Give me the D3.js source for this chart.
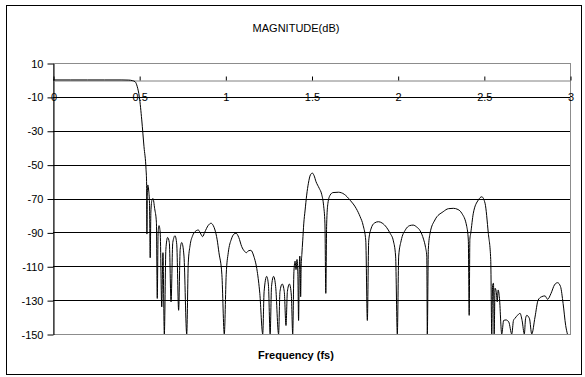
<!DOCTYPE html>
<html>
<head>
<meta charset="utf-8">
<script src="https://cdn.jsdelivr.net/npm/d3@7"></script>
<style>
  body { margin: 0; background: #fff; }
  svg text { font-family: "Liberation Sans", Arial, sans-serif; }
</style>
</head>
<body>
<script>
const chartTitle = "MAGNITUDE(dB)";
const xTitle = "Frequency (fs)";
const xTicks = [0, 0.5, 1, 1.5, 2, 2.5, 3];
const yTicks = [10, -10, -30, -50, -70, -90, -110, -130, -150];

// [frequency (fs), magnitude (dB)]
const response = [
  [0, 0], [0.1, 0], [0.2, 0], [0.3, 0], [0.4, 0], [0.44, -0.1], [0.46, -0.4], [0.476, -1],
  [0.489, -4], [0.501, -10], [0.515, -23.6], [0.528, -39.4], [0.540, -53], [0.543, -60],
  [0.545, -91], [0.547, -68], [0.550, -62], [0.555, -65], [0.560, -73], [0.564, -105],
  [0.568, -78], [0.574, -71], [0.580, -70], [0.590, -76], [0.600, -84], [0.605, -129],
  [0.610, -90], [0.615, -86], [0.622, -90], [0.631, -134], [0.638, -102], [0.646, -150],
  [0.655, -100], [0.665, -93], [0.675, -96], [0.685, -131], [0.695, -96], [0.708, -92],
  [0.718, -97], [0.729, -136], [0.738, -100], [0.747, -96], [0.760, -104], [0.776, -150],
  [0.785, -108], [0.795, -98], [0.810, -92], [0.825, -89.5], [0.843, -88.6], [0.858, -91],
  [0.868, -92.5], [0.880, -90], [0.900, -86], [0.917, -84.6], [0.930, -86], [0.940, -88.6],
  [0.952, -94], [0.963, -102], [0.980, -115], [0.994, -150], [1.005, -115], [1.017, -102],
  [1.035, -94], [1.050, -91], [1.062, -90.5], [1.078, -93], [1.095, -98.4], [1.110, -101],
  [1.122, -102], [1.135, -100.8], [1.148, -100.6], [1.165, -104], [1.185, -113], [1.200, -126],
  [1.217, -150], [1.225, -125], [1.240, -116], [1.250, -121], [1.260, -150], [1.268, -122],
  [1.280, -116], [1.292, -122], [1.309, -150], [1.317, -125], [1.330, -120.5], [1.342, -125],
  [1.352, -145], [1.360, -125], [1.372, -120.5], [1.383, -127], [1.391, -150], [1.398, -113],
  [1.405, -107], [1.410, -112], [1.416, -106], [1.421, -115], [1.425, -142], [1.429, -112],
  [1.432, -104], [1.435, -112], [1.437, -128], [1.440, -110], [1.444, -103],
  [1.449, -95], [1.455, -85], [1.463, -76.8], [1.472, -68], [1.482, -61], [1.494, -56],
  [1.505, -55], [1.515, -56.5], [1.526, -60], [1.545, -64], [1.559, -67.5], [1.570, -74],
  [1.578, -85], [1.583, -126], [1.588, -85], [1.595, -73], [1.608, -68], [1.625, -66.5],
  [1.656, -66.3], [1.690, -67.5], [1.724, -71], [1.760, -76], [1.782, -80.7], [1.800, -86],
  [1.815, -95], [1.824, -142], [1.832, -95], [1.845, -88], [1.865, -84.5], [1.888, -83.7],
  [1.910, -84.5], [1.935, -87], [1.956, -90.5], [1.975, -95], [1.988, -104], [1.998, -150],
  [2.006, -104], [2.020, -95], [2.045, -88.5], [2.070, -86], [2.090, -85.7], [2.110, -86.8],
  [2.130, -89], [2.150, -94], [2.162, -99], [2.169, -104], [2.172, -150], [2.178, -100],
  [2.188, -90.5], [2.216, -82.7], [2.264, -77.8], [2.295, -76], [2.323, -75.8], [2.350, -76.5],
  [2.372, -78.7], [2.401, -86.6], [2.410, -94.5], [2.415, -139], [2.419, -94], [2.424, -90.5],
  [2.439, -78.7], [2.468, -70.9], [2.488, -69], [2.507, -72.8], [2.526, -90.5], [2.540, -106],
  [2.546, -150], [2.551, -121], [2.556, -120], [2.560, -150], [2.565, -123], [2.572, -125],
  [2.578, -131], [2.583, -124], [2.590, -128], [2.604, -150], [2.615, -142], [2.629, -141.7],
  [2.645, -143], [2.662, -150], [2.672, -142], [2.681, -140.7], [2.695, -139], [2.710, -137.8],
  [2.722, -142], [2.735, -150], [2.742, -141], [2.749, -139], [2.765, -141], [2.778, -150],
  [2.797, -140], [2.815, -130], [2.835, -128], [2.855, -127.5], [2.870, -129.5], [2.890, -126],
  [2.910, -121], [2.928, -119.7], [2.945, -122], [2.960, -132], [2.975, -145], [2.985, -150]
];

const width = 585, height = 377;
const plot = { left: 53, right: 570, top: 63, bottom: 334 };

const svg = d3.select("body").append("svg")
    .attr("width", width)
    .attr("height", height);

var x = d3.scaleLinear().domain([0, 3]).range([plot.left, plot.right]);
var y = d3.scaleLinear().domain([-150, 10]).range([plot.bottom, plot.top]);

// chart area border
svg.append("rect")
    .attr("x", 6.5).attr("y", 5.5)
    .attr("width", 575).attr("height", 369)
    .attr("fill", "#fff")
    .attr("stroke", "#000");

// plot area frame
svg.append("rect")
    .attr("x", plot.left + 0.5).attr("y", plot.top + 0.5)
    .attr("width", plot.right - plot.left)
    .attr("height", plot.bottom - plot.top)
    .attr("fill", "#fff")
    .attr("stroke", "#8c8c8c");

// horizontal gridlines
svg.append("g")
    .selectAll("line")
    .data(yTicks.filter(d => d !== 10 && d !== -150))
    .enter().append("line")
    .attr("x1", plot.left).attr("x2", plot.right)
    .attr("y1", d => Math.round(y(d)) + 0.5)
    .attr("y2", d => Math.round(y(d)) + 0.5)
    .attr("stroke", "#000");

// y axis (plain hyphen for negatives, like the original)
const yAxis = svg.append("g")
    .attr("transform", "translate(" + (plot.left + 0.5) + ",0.5)")
    .call(d3.axisLeft(y).tickValues(yTicks).tickFormat(d => String(d))
        .tickSize(6).tickSizeOuter(0).tickPadding(4));
yAxis.select(".domain").attr("stroke", "#000");
yAxis.selectAll(".tick line").attr("stroke", "#000");
yAxis.selectAll("text").attr("font-size", 11).attr("fill", "#000")
    .attr("font-family", "Liberation Sans, Arial, sans-serif");

// x axis crosses at 0 dB, ticks point up, labels sit below
const xAxis = svg.append("g")
    .attr("transform", "translate(0.5," + (Math.round(y(0)) + 0.5) + ")")
    .call(d3.axisBottom(x).tickValues(xTicks).tickFormat(d => String(d))
        .tickSize(-4).tickSizeOuter(0).tickPadding(13));
xAxis.select(".domain").attr("stroke", "#808080");
xAxis.selectAll(".tick line").attr("stroke", "#000");
xAxis.selectAll("text").attr("font-size", 11).attr("fill", "#000")
    .attr("font-family", "Liberation Sans, Arial, sans-serif");

// response curve
const line = d3.line()
    .x(d => x(d[0]))
    .y(d => y(d[1]))
    .curve(d3.curveMonotoneX);

svg.append("path")
    .datum(response)
    .attr("fill", "none")
    .attr("stroke", "#000")
    .attr("stroke-width", 1)
    .attr("d", line);

// titles
svg.append("text")
    .text(chartTitle)
    .attr("x", 296)
    .attr("y", 32)
    .attr("text-anchor", "middle")
    .attr("font-size", 11);

svg.append("text")
    .text(xTitle)
    .attr("x", 296)
    .attr("y", 359)
    .attr("text-anchor", "middle")
    .attr("font-weight", "bold")
    .attr("font-size", 11);
</script>
</body>
</html>
